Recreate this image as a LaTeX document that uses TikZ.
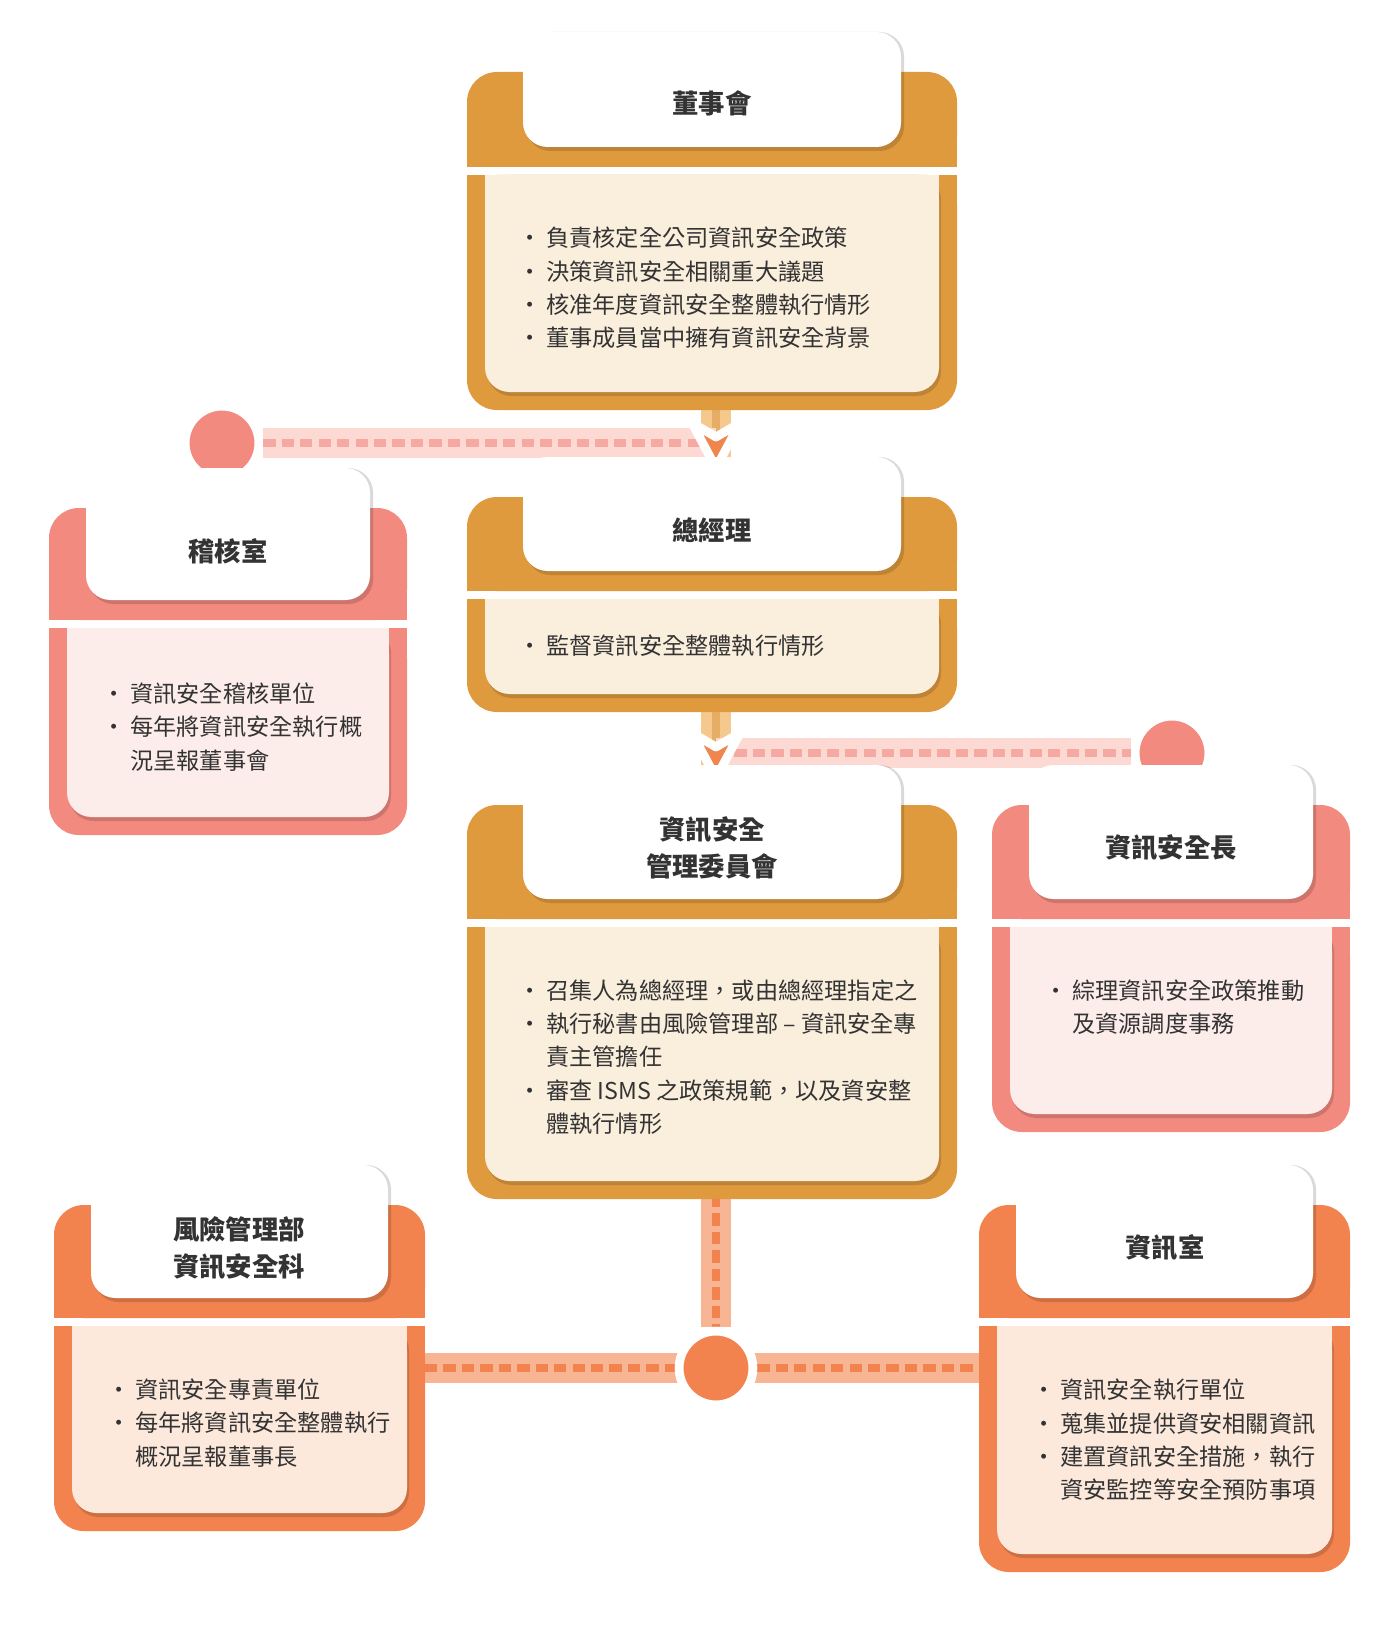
\documentclass[tikz,border=0pt]{standalone}
\usepackage{fontspec}
\setmainfont{Noto Sans CJK TC}
\usetikzlibrary{positioning}
\definecolor{gold}{HTML}{E09A3E}
\definecolor{goldlt}{HTML}{F5C98E}
\definecolor{cream}{HTML}{FAEEDC}
\definecolor{rose}{HTML}{F28A80}
\definecolor{roselt}{HTML}{FCDAD3}
\definecolor{rosedash}{HTML}{F6A9A2}
\definecolor{rosebg}{HTML}{FDEDEA}
\definecolor{tang}{HTML}{F2834F}
\definecolor{tanglt}{HTML}{F8B594}
\definecolor{tangbg}{HTML}{FCE9DC}
\definecolor{ink}{HTML}{333333}
\tikzset{
	title/.style={font=\fontsize{15}{21}\selectfont\bfseries, text=ink, align=center},
	bodytext/.style={font=\fontsize{13.2}{19}\selectfont, text=ink, align=left, anchor=west},
	dot/.style={circle, fill=#1, draw=white, line width=5pt, minimum size=42pt, inner sep=0pt},
	band/.style={line width=17pt, #1},
	dashline/.style={line width=4.5pt, #1, dash pattern=on 7pt off 3.5pt},
}
\newcommand\pt{\makebox[16pt][l]{·}}
\newcommand\ind{\hspace*{16pt}}
% #1 left, #2 right, #3 top, #4 band, #5 bottom, #6 tab inset, #7 dark, #8 light
\newcommand\orgbox[8]{%
	\fill[#7, rounded corners=17pt] (#1,#3) rectangle (#2,#4);
	\fill[#7] (#1,#4-40) rectangle (#2,#4);
	\fill[black, opacity=.15, rounded corners=14pt] (#1+#6+3,#3-40) rectangle (#2-#6+3,#4-16);
	\fill[white, rounded corners=14pt] (#1+#6,#3-40) rectangle (#2-#6,#4-20);
	\fill[#7, rounded corners=17pt] (#1,#4+8) rectangle (#2,#5);
	\fill[#7] (#1,#4+8) rectangle (#2,#4+48);
	\fill[black, opacity=.15, rounded corners=14pt] (#1+20,#4+8) rectangle (#2-16,#5-14);
	\fill[#8, rounded corners=14pt] (#1+18,#4+8) rectangle (#2-18,#5-18);
	\fill[#8] (#1+18,#4+8) rectangle (#2-18,#4+48);
}
\begin{document}
\begin{tikzpicture}[x=0.02cm, y=-0.02cm]
	\useasboundingbox[fill=white] (0,0) rectangle (1398,1652);

	% connectors
	\coordinate (boardbot) at (716,405);
	\coordinate (gmtop) at (716,500);
	\coordinate (gmbot) at (716,705);
	\coordinate (cmtop) at (716,810);
	\coordinate (cmbot) at (716,1195);
	\coordinate (riskright) at (425,1368);
	\coordinate (itleft) at (979,1368);
	\draw[band=goldlt] (boardbot) -- (gmtop);
	\draw[line width=5pt, gold!80] (boardbot) -- (gmtop);
	\draw[band=goldlt] (gmbot) -- (cmtop);
	\draw[line width=5pt, gold!80] (gmbot) -- (cmtop);

	\node[dot=rose] (audit dot) at (222,443) {};
	\coordinate (arr1) at (716,443);
	\draw[band=roselt] (audit dot) -- (arr1);
	\draw[dashline=rosedash] (audit dot.east) -- (arr1);

	\node[dot=rose] (ciso dot) at (1172,753) {};
	\coordinate (arr2) at (716,753);
	\draw[band=roselt] (arr2) -- (ciso dot);
	\draw[dashline=rosedash] (arr2) -- (ciso dot.west);

	\node[dot=tang] (hub) at (716,1368) {};
	\draw[band=tanglt] (cmbot) -- (hub) (riskright) -- (itleft);
	\draw[dashline=tang] (cmbot) -- (hub.north) (riskright) -- (hub.west) (hub.east) -- (itleft);
	\node[dot=tang] at (hub) {};

	% arrows
	\foreach \ay in {443,753}
		\filldraw[fill=tang!90!gold, draw=white, line width=5pt, line join=round]
			(692,\ay-20) -- (716,\ay-6) -- (740,\ay-20) -- (716,\ay+25) -- cycle;

	% boxes
	\orgbox{467}{957}{72}{167}{410}{56}{gold}{cream}
	\orgbox{467}{957}{497}{591}{712}{56}{gold}{cream}
	\orgbox{49}{407}{508}{620}{835}{37}{rose}{rosebg}
	\orgbox{467}{957}{805}{919}{1199}{56}{gold}{cream}
	\orgbox{992}{1350}{805}{919}{1132}{37}{rose}{rosebg}
	\orgbox{54}{425}{1205}{1318}{1531}{37}{tang}{tangbg}
	\orgbox{979}{1350}{1205}{1318}{1572}{37}{tang}{tangbg}

	% titles
	\node[title] (board) at (712,103) {董事會};
	\node[title] (gm) at (712,530) {總經理};
	\node[title] (audit) at (228,551) {稽核室};
	\node[title] (committee) at (712,848) {資訊安全\\管理委員會};
	\node[title] (ciso) at (1171,848) {資訊安全長};
	\node[title] (risk) at (239,1248) {風險管理部\\資訊安全科};
	\node[title] (it) at (1165,1248) {資訊室};

	% texts
	\node[bodytext] (board text) at (512,288) {\pt 負責核定全公司資訊安全政策\\\pt 決策資訊安全相關重大議題\\\pt 核准年度資訊安全整體執行情形\\\pt 董事成員當中擁有資訊安全背景};
	\node[bodytext] (gm text) at (512,646) {\pt 監督資訊安全整體執行情形};
	\node[bodytext] (audit text) at (96,727) {\pt 資訊安全稽核單位\\\pt 每年將資訊安全執行概\\\ind 況呈報董事會};
	\node[bodytext] (committee text) at (512,1057) {\pt 召集人為總經理，或由總經理指定之\\\pt 執行秘書由風險管理部 – 資訊安全專\\\ind 責主管擔任\\\pt 審查 ISMS 之政策規範，以及資安整\\\ind 體執行情形};
	\node[bodytext] (ciso text) at (1038,1007) {\pt 綜理資訊安全政策推動\\\ind 及資源調度事務};
	\node[bodytext] (risk text) at (101,1423) {\pt 資訊安全專責單位\\\pt 每年將資訊安全整體執行\\\ind 概況呈報董事長};
	\node[bodytext] (it text) at (1026,1440) {\pt 資訊安全執行單位\\\pt 蒐集並提供資安相關資訊\\\pt 建置資訊安全措施，執行\\\ind 資安監控等安全預防事項};
\end{tikzpicture}
\end{document}
